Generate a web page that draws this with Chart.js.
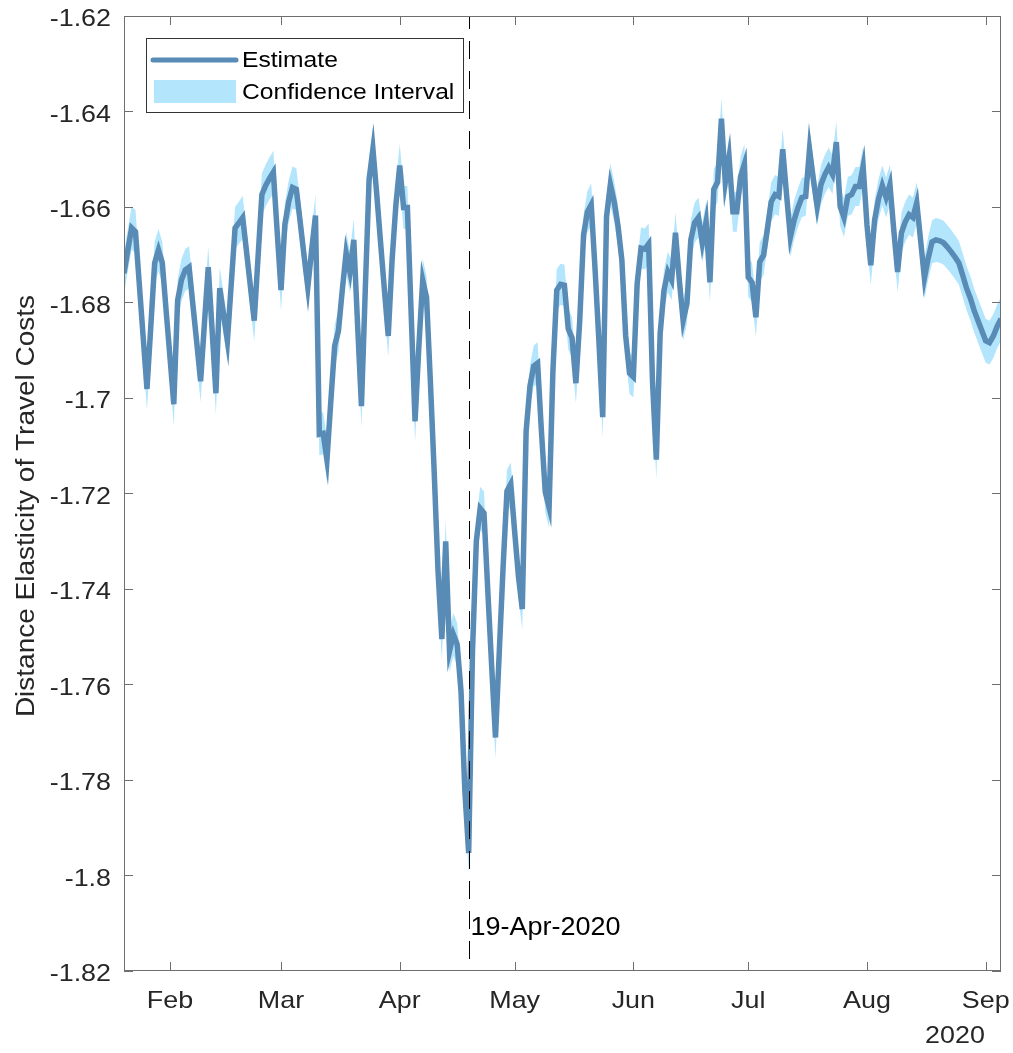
<!DOCTYPE html>
<html>
<head>
<meta charset="utf-8">
<script src="https://cdn.jsdelivr.net/npm/chart.js@4.4.1/dist/chart.umd.min.js"></script>
<style>
  html, body { margin: 0; padding: 0; background: #fff; }
  #wrap { width: 1013px; height: 1053px; position: relative; }
</style>
</head>
<body>
<div id="wrap"><canvas id="elasticityChart"></canvas></div>
<script>
// daily estimates, 20-Jan-2020 (day 0) .. 05-Sep-2020 (day 229)
const estimate = [
  // Jan 20-31
  -1.6739, -1.6690, -1.6644, -1.6652, -1.6762, -1.6872, -1.6981, -1.6850, -1.6717, -1.6690, -1.6717, -1.6817,
  // Feb
  -1.6914, -1.7013, -1.6796, -1.6753, -1.6732, -1.6726, -1.6806, -1.6884, -1.6965, -1.6844, -1.6726, -1.6857,
  -1.6990, -1.6770, -1.6825, -1.6880, -1.6762, -1.6644, -1.6633, -1.6622, -1.6694, -1.6766, -1.6838, -1.6705,
  -1.6574, -1.6555, -1.6540, -1.6527, -1.6652,
  // Mar
  -1.6774, -1.6637, -1.6589, -1.6559, -1.6563, -1.6631, -1.6701, -1.6768, -1.6690, -1.6618, -1.7076, -1.7074,
  -1.7129, -1.7007, -1.6891, -1.6859, -1.6774, -1.6696, -1.6736, -1.6669, -1.6848, -1.7017, -1.6774, -1.6542,
  -1.6479, -1.6574, -1.6675, -1.6774, -1.6870, -1.6711, -1.6595,
  // Apr
  -1.6513, -1.6601, -1.6601, -1.6827, -1.7049, -1.6891, -1.6753, -1.6789, -1.6965, -1.7155, -1.7363, -1.7505,
  -1.7300, -1.7530, -1.7495, -1.7516, -1.7614, -1.7822, -1.7953, -1.7530, -1.7300, -1.7231, -1.7241, -1.7405,
  -1.7561, -1.7711, -1.7530, -1.7352, -1.7195, -1.7180,
  // May
  -1.7279, -1.7374, -1.7442, -1.7070, -1.6975, -1.6933, -1.6927, -1.7070, -1.7197, -1.7229, -1.6943, -1.6774,
  -1.6762, -1.6764, -1.6855, -1.6874, -1.6969, -1.6838, -1.6658, -1.6610, -1.6595, -1.6730, -1.6880, -1.7040,
  -1.6620, -1.6553, -1.6589, -1.6640, -1.6711, -1.6870, -1.6948,
  // Jun
  -1.6956, -1.6760, -1.6686, -1.6688, -1.6677, -1.6965, -1.7129, -1.6865, -1.6774, -1.6736, -1.6753, -1.6654,
  -1.6753, -1.6838, -1.6802, -1.6669, -1.6633, -1.6622, -1.6675, -1.6631, -1.6758, -1.6563, -1.6548, -1.6415,
  -1.6548, -1.6496, -1.6610, -1.6610, -1.6536, -1.6510,
  // Jul
  -1.6747, -1.6758, -1.6831, -1.6715, -1.6701, -1.6646, -1.6589, -1.6574, -1.6578, -1.6479, -1.6574, -1.6663,
  -1.6627, -1.6601, -1.6580, -1.6578, -1.6479, -1.6542, -1.6599, -1.6553, -1.6532, -1.6517, -1.6532, -1.6464,
  -1.6599, -1.6622, -1.6578, -1.6574, -1.6557, -1.6557, -1.6515,
  // Aug
  -1.6637, -1.6722, -1.6627, -1.6584, -1.6555, -1.6580, -1.6553, -1.6648, -1.6736, -1.6654, -1.6631, -1.6616,
  -1.6622, -1.6591, -1.6669, -1.6749, -1.6707, -1.6673, -1.6669, -1.6671, -1.6675, -1.6684, -1.6694, -1.6705,
  -1.6717, -1.6743, -1.6770, -1.6791, -1.6817, -1.6838, -1.6859,
  // Sep 1-5
  -1.6880, -1.6884, -1.6870, -1.6850, -1.6834
];

// half width of the confidence band, per day
const ciHalfWidth = [
  // Jan 20-31
  0.0044, 0.0044, 0.0045, 0.0045, 0.0044, 0.0044, 0.0045, 0.0044, 0.0044, 0.0044, 0.0044, 0.0044,
  // Feb
  0.0044, 0.0045, 0.0044, 0.0044, 0.0044, 0.0044, 0.0044, 0.0044, 0.0044, 0.0044, 0.0044, 0.0044,
  0.0045, 0.0044, 0.0044, 0.0044, 0.0044, 0.0044, 0.0044, 0.0045, 0.0044, 0.0044, 0.0044, 0.0044,
  0.0044, 0.0044, 0.0044, 0.0045, 0.0044,
  // Mar
  0.0044, 0.0044, 0.0044, 0.0044, 0.0044, 0.0044, 0.0044, 0.0044, 0.0044, 0.0044, 0.0044, 0.0044,
  0.0045, 0.0044, 0.0044, 0.0044, 0.0044, 0.0044, 0.0044, 0.0045, 0.0044, 0.0044, 0.0044, 0.0044,
  0.0045, 0.0044, 0.0044, 0.0044, 0.0044, 0.0044, 0.0044,
  // Apr
  0.0045, 0.0045, 0.0045, 0.0044, 0.0044, 0.0044, 0.0045, 0.0044, 0.0044, 0.0044, 0.0044, 0.0044,
  0.0045, 0.0045, 0.0045, 0.0045, 0.0044, 0.0044, 0.0043, 0.0044, 0.0044, 0.0045, 0.0045, 0.0044,
  0.0044, 0.0044, 0.0044, 0.0044, 0.0045, 0.0045,
  // May
  0.0044, 0.0044, 0.0044, 0.0044, 0.0043, 0.0043, 0.0044, 0.0043, 0.0043, 0.0043, 0.0043, 0.0044,
  0.0043, 0.0043, 0.0043, 0.0043, 0.0043, 0.0043, 0.0043, 0.0043, 0.0044, 0.0043, 0.0043, 0.0043,
  0.0043, 0.0044, 0.0043, 0.0043, 0.0043, 0.0043, 0.0043,
  // Jun
  0.0043, 0.0043, 0.0043, 0.0043, 0.0043, 0.0042, 0.0042, 0.0042, 0.0042, 0.0042, 0.0042, 0.0043,
  0.0042, 0.0042, 0.0042, 0.0042, 0.0042, 0.0042, 0.0042, 0.0042, 0.0042, 0.0042, 0.0042, 0.0044,
  0.0042, 0.0042, 0.0042, 0.0042, 0.0042, 0.0042,
  // Jul
  0.0041, 0.0041, 0.0041, 0.0041, 0.0041, 0.0041, 0.0041, 0.0041, 0.0041, 0.0043, 0.0041, 0.0041,
  0.0041, 0.0041, 0.0041, 0.0041, 0.0043, 0.0041, 0.0041, 0.0041, 0.0041, 0.0041, 0.0041, 0.0043,
  0.0041, 0.0041, 0.0041, 0.0041, 0.0041, 0.0041, 0.0042,
  // Aug
  0.0042, 0.0042, 0.0042, 0.0042, 0.0042, 0.0042, 0.0042, 0.0042, 0.0042, 0.0042, 0.0042, 0.0042,
  0.0042, 0.0043, 0.0043, 0.0044, 0.0045, 0.0045, 0.0046, 0.0046, 0.0046, 0.0046, 0.0046, 0.0046,
  0.0046, 0.0046, 0.0046, 0.0046, 0.0046, 0.0046, 0.0046,
  // Sep 1-5
  0.0046, 0.0046, 0.0046, 0.0046, 0.0046
];

const monthTickDays = [12, 41, 72, 102, 133, 163, 194, 225];
const monthLabels = ['Feb', 'Mar', 'Apr', 'May', 'Jun', 'Jul', 'Aug', 'Sep'];
const yTickValues = [-1.82, -1.80, -1.78, -1.76, -1.74, -1.72, -1.70, -1.68, -1.66, -1.64, -1.62];
const yTickLabels = ['-1.82', '-1.8', '-1.78', '-1.76', '-1.74', '-1.72', '-1.7', '-1.68', '-1.66', '-1.64', '-1.62'];
const markerDay = 90;
const markerLabel = '19-Apr-2020';
const yearLabel = '2020';
const yTitle = 'Distance Elasticity of Travel Costs';

const FONT = '"Liberation Sans", Arial, Helvetica, sans-serif';
const LINE_COLOR = '#588bb5';
const BAND_COLOR = '#b3e5fc';
const TEXT_COLOR = '#262626';
const AXIS_COLOR = '#6f6f6f';
const STRETCH = 1.12; // text in the picture is a bit wider than plain Arial

const estPoints = estimate.map((v, i) => ({x: i, y: v}));
const upperPoints = estimate.map((v, i) => ({x: i, y: v + ciHalfWidth[i]}));
const lowerPoints = estimate.map((v, i) => ({x: i, y: v - ciHalfWidth[i]}));

function wideText(ctx, text, x, y, align, sx) {
  ctx.save();
  ctx.translate(x, y);
  ctx.scale(sx || STRETCH, 1);
  ctx.textAlign = align;
  ctx.fillText(text, 0, 0);
  ctx.restore();
}

// box, inward ticks, tick labels, marker line, legend (matlab look)
const decorations = {
  id: 'decorations',
  afterDatasetsDraw(chart) {
    const ctx = chart.ctx;
    const a = chart.chartArea;
    const xs = chart.scales.x;
    const ys = chart.scales.y;

    ctx.save();
    // vertical marker
    const mx = Math.round(xs.getPixelForValue(markerDay)) + 0.5;
    ctx.strokeStyle = '#000';
    ctx.lineWidth = 1;
    ctx.setLineDash([18, 12]);
    ctx.lineDashOffset = 5;
    ctx.beginPath();
    ctx.moveTo(mx, a.top);
    ctx.lineTo(mx, a.bottom);
    ctx.stroke();
    ctx.setLineDash([]);

    ctx.fillStyle = '#000';
    ctx.font = '25px ' + FONT;
    ctx.textBaseline = 'alphabetic';
    wideText(ctx, markerLabel, mx + 1, 935, 'left', 1.08);

    // axes box
    ctx.strokeStyle = AXIS_COLOR;
    ctx.lineWidth = 1;
    ctx.strokeRect(a.left + 0.5, a.top + 0.5, a.right - a.left - 1, a.bottom - a.top - 1);

    // inward ticks
    ctx.beginPath();
    ys.ticks.forEach(t => {
      const y = Math.round(ys.getPixelForValue(t.value)) + 0.5;
      ctx.moveTo(a.left, y); ctx.lineTo(a.left + 9, y);
      ctx.moveTo(a.right, y); ctx.lineTo(a.right - 9, y);
    });
    xs.ticks.forEach(t => {
      const x = Math.round(xs.getPixelForValue(t.value)) + 0.5;
      ctx.moveTo(x, a.bottom); ctx.lineTo(x, a.bottom - 9);
      ctx.moveTo(x, a.top); ctx.lineTo(x, a.top + 9);
    });
    ctx.stroke();

    // tick labels
    ctx.fillStyle = TEXT_COLOR;
    ctx.font = '24px ' + FONT;
    ys.ticks.forEach(t => {
      const y = ys.getPixelForValue(t.value);
      wideText(ctx, yTickLabels[yTickValues.indexOf(t.value)], a.left - 13, y + 10, 'right');
    });
    xs.ticks.forEach(t => {
      const x = xs.getPixelForValue(t.value);
      wideText(ctx, monthLabels[monthTickDays.indexOf(t.value)], x, 1008, 'center');
    });
    wideText(ctx, yearLabel, 955, 1043, 'center');

    // legend
    const lx = 146, ly = 38, lw = 317, lh = 74;
    ctx.fillStyle = '#fff';
    ctx.fillRect(lx, ly, lw, lh);
    ctx.strokeStyle = '#333';
    ctx.strokeRect(lx + 0.5, ly + 0.5, lw, lh);
    ctx.strokeStyle = LINE_COLOR;
    ctx.lineWidth = 5;
    ctx.lineCap = 'round';
    ctx.beginPath();
    ctx.moveTo(153, 60);
    ctx.lineTo(236, 60);
    ctx.stroke();
    ctx.fillStyle = BAND_COLOR;
    ctx.fillRect(154, 80, 82, 23);
    ctx.fillStyle = '#000';
    ctx.font = '22px ' + FONT;
    ctx.textBaseline = 'middle';
    wideText(ctx, chart.data.datasets[0].label, 242, 61, 'left');
    wideText(ctx, chart.data.datasets[1].label, 242, 93, 'left');

    // y title
    ctx.fillStyle = TEXT_COLOR;
    ctx.font = '25px ' + FONT;
    ctx.translate(27, 506);
    ctx.rotate(-Math.PI / 2);
    wideText(ctx, yTitle, 0, 0, 'center');
    ctx.restore();
  }
};

new Chart(document.getElementById('elasticityChart'), {
  type: 'line',
  data: {
    datasets: [{
      label: 'Estimate',
      data: estPoints,
      borderColor: LINE_COLOR,
      borderWidth: 5.5,
      pointRadius: 0,
      tension: 0,
      fill: false,
      order: 0
    }, {
      label: 'Confidence Interval',
      data: upperPoints,
      borderWidth: 0,
      borderColor: BAND_COLOR,
      backgroundColor: BAND_COLOR,
      pointRadius: 0,
      tension: 0,
      fill: '+1',
      order: 1
    }, {
      label: 'lower',
      data: lowerPoints,
      borderWidth: 0,
      borderColor: BAND_COLOR,
      pointRadius: 0,
      tension: 0,
      fill: false,
      order: 2
    }]
  },
  options: {
    responsive: true,
    maintainAspectRatio: false,
    animation: false,
    layout: {padding: {top: 16, right: 12, left: 0, bottom: 0}},
    plugins: {legend: {display: false}, tooltip: {enabled: false}},
    scales: {
      x: {
        type: 'linear',
        min: 0,
        max: estimate.length - 1,
        grid: {display: false, drawTicks: false},
        border: {display: false},
        afterFit(scale) { scale.height = 82; },
        afterBuildTicks(scale) { scale.ticks = monthTickDays.map(v => ({value: v})); },
        ticks: {display: false}
      },
      y: {
        min: -1.82,
        max: -1.62,
        grid: {display: false, drawTicks: false},
        border: {display: false},
        afterFit(scale) { scale.width = 124; },
        afterBuildTicks(scale) { scale.ticks = yTickValues.map(v => ({value: v})); },
        ticks: {display: false}
      }
    }
  },
  plugins: [decorations]
});
</script>
</body>
</html>
